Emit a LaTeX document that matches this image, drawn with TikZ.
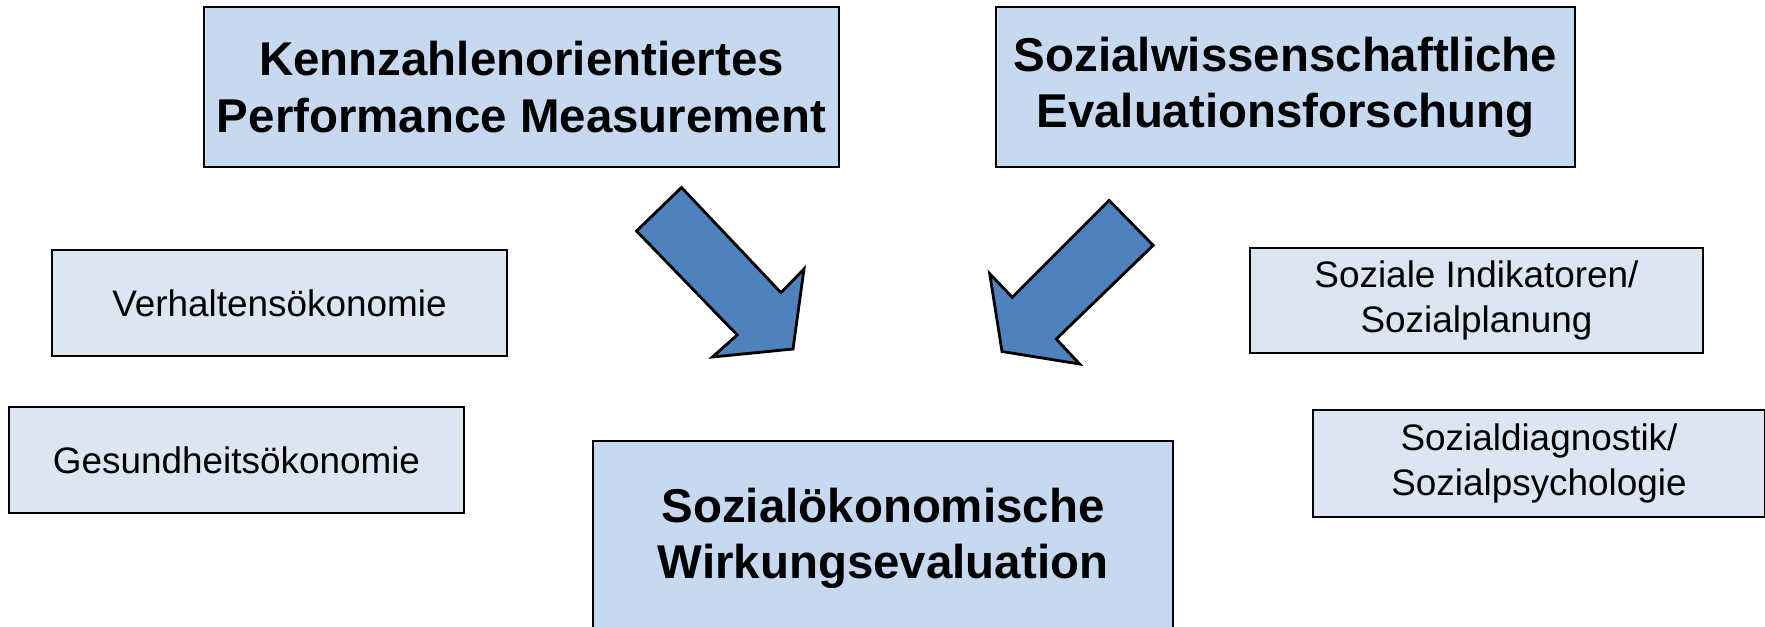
\documentclass[tikz,border=0pt]{standalone}
\usepackage{fontspec}
\setmainfont{Liberation Sans}
\definecolor{boxblue}{HTML}{C6D9F1}
\definecolor{paleblue}{HTML}{DCE6F2}
\definecolor{arrowblue}{HTML}{4F81BD}
\begin{document}
\begin{tikzpicture}[x=0.02cm,y=-0.02cm,
        every node/.style={rectangle,draw=black,line width=1.1pt,inner sep=0pt,outer sep=0pt,align=center},
        mainbox/.style={fill=boxblue,font=\fontsize{27}{32}\selectfont\bfseries},
        sidebox/.style={fill=paleblue,font=\fontsize{21}{25.5}\selectfont},
        blockarrow/.style={fill=arrowblue,draw=black,line width=1.6pt,line join=miter}]
    \clip (0,0) rectangle (1765,626);   % page = reference frame
    \fill[white] (0,0) rectangle (1765,626);

    \node[mainbox,minimum width=12.7cm,minimum height=3.2cm]  (kpm)  at ( 521.5, 87) {Kennzahlenorientiertes\\Performance Measurement};
    \node[mainbox,minimum width=11.58cm,minimum height=3.2cm] (eval) at (1285.5, 87) {Sozialwissenschaftliche\\Evaluationsforschung};
    \node[sidebox,minimum width=9.1cm,minimum height=2.12cm]  (verh) at ( 279.5,303) {Verhaltensökonomie};
    \node[sidebox,minimum width=9.1cm,minimum height=2.12cm]  (gesu) at ( 236.5,460) {Gesundheitsökonomie};
    \node[sidebox,minimum width=9.06cm,minimum height=2.1cm]  (indi) at (1476.5,300.5) {Soziale Indikatoren/\\Sozialplanung};
    \node[sidebox,minimum width=9.04cm,minimum height=2.14cm] (diag) at (1539,463.5) {Sozialdiagnostik/\\Sozialpsychologie};
    \node[mainbox,minimum width=11.6cm,minimum height=3.88cm] (wirk) at ( 883,538) {Sozialökonomische\\Wirkungsevaluation};

    \draw[blockarrow] (636.5,231) -- (681.5,187.5) -- (781,292.7) -- (804,269)
        -- (793,349) -- (712.5,357) -- (737.2,335) -- cycle;
    \draw[blockarrow] (1012.3,297.3) -- (1109.2,200.5) -- (1153.2,245.3) -- (1056.3,339)
        -- (1079.6,364) -- (1002,351.5) -- (989.7,273.7) -- cycle;

\end{tikzpicture}
\end{document}
